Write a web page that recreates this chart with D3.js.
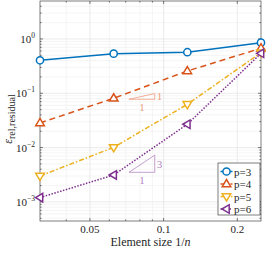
<!DOCTYPE html>
<html>
<head>
<meta charset="utf-8">
<script src="https://cdn.jsdelivr.net/npm/d3@7"></script>
<style>
  body { margin: 0; background: #fff; }
  text { font-family: "Liberation Serif", "Times New Roman", Times, "DejaVu Serif", serif; }
</style>
</head>
<body>
<svg id="chart" width="266" height="253"></svg>
<script>
// element sizes 1/n
const sizes = [1 / 32, 1 / 16, 1 / 8, 1 / 4];
const seriesNames = ["p=3", "p=4", "p=5", "p=6"];
const errP3 = [0.405, 0.537, 0.57, 0.855];
const errP4 = [0.0284, 0.081, 0.257, 0.675];
const errP5 = [0.0030, 0.0101, 0.0627, 0.56];
const errP6 = [0.0012, 0.00313, 0.0269, 0.545];
const xTicks = [0.05, 0.1, 0.2];
const yTicks = [1, 0.1, 0.01, 0.001];
const yTickExp = ["0", "\u22121", "\u22122", "\u22123"];
// slope triangles: [x0, x1, yBase, slope]
const slopes = [[0.0722, 0.092, 0.0776, 1], [0.0722, 0.092, 0.00351, 3]];

const MARGIN = { left: 40, right: 5, top: 1, bottom: 32 };
const svg = d3.select("#chart");
const width = 266 - MARGIN.left - MARGIN.right;
const height = 253 - MARGIN.top - MARGIN.bottom;

const colors = ["#0072BD", "#D95319", "#EDB120", "#7E2F8E"];
const dashes = ["none", "6,4", "5,2,1.5,2", "1.5,1.5"];
const slopeColors = ["#EE9C7C", "#B486C2"];

const x = d3.scaleLog().domain([1 / 32, 1 / 4]).range([0, width]);
const y = d3.scaleLog().domain([4.45e-4, 5.0]).range([height, 0]);

const g = svg.append("g").attr("transform", `translate(${MARGIN.left},${MARGIN.top})`);

// minor grid + major grid
const xMinor = [0.04, 0.06, 0.07, 0.08, 0.09];
const yMinor = [];
[1e-4, 1e-3, 1e-2, 1e-1, 1].forEach(d => {
  for (let k = 2; k <= 9; k++) {
    const v = d * k;
    if (v > y.domain()[0] && v < y.domain()[1]) yMinor.push(v);
  }
});

g.selectAll(".xminor").data(xMinor).enter().append("line")
  .attr("x1", d => x(d)).attr("x2", d => x(d)).attr("y1", 0).attr("y2", height)
  .attr("stroke", "#efefef").attr("stroke-width", 0.6);
g.selectAll(".yminor").data(yMinor).enter().append("line")
  .attr("x1", 0).attr("x2", width).attr("y1", d => y(d)).attr("y2", d => y(d))
  .attr("stroke", "#efefef").attr("stroke-width", 0.6);
g.selectAll(".xmajor").data(xTicks).enter().append("line")
  .attr("x1", d => x(d)).attr("x2", d => x(d)).attr("y1", 0).attr("y2", height)
  .attr("stroke", "#e2e2e2").attr("stroke-width", 0.7);
g.selectAll(".ymajor").data(yTicks).enter().append("line")
  .attr("x1", 0).attr("x2", width).attr("y1", d => y(d)).attr("y2", d => y(d))
  .attr("stroke", "#e2e2e2").attr("stroke-width", 0.7);

// inward ticks on all four sides
function ticks(data, len) {
  data.forEach(d => {
    g.append("line").attr("x1", x(d)).attr("x2", x(d)).attr("y1", height).attr("y2", height - len);
    g.append("line").attr("x1", x(d)).attr("x2", x(d)).attr("y1", 0).attr("y2", len);
  });
}
function yticks(data, len) {
  data.forEach(d => {
    g.append("line").attr("x1", 0).attr("x2", len).attr("y1", y(d)).attr("y2", y(d));
    g.append("line").attr("x1", width).attr("x2", width - len).attr("y1", y(d)).attr("y2", y(d));
  });
}
ticks(xTicks, 3); ticks(xMinor, 1.6);
yticks(yTicks, 3); yticks(yMinor, 1.6);
g.selectAll("line").filter(function () { return !this.getAttribute("stroke"); })
  .attr("stroke", "#262626").attr("stroke-width", 0.6);

// box
g.append("rect").attr("width", width).attr("height", height)
  .attr("fill", "none").attr("stroke", "#262626").attr("stroke-width", 0.6);

// tick labels
g.selectAll(".xlab").data(xTicks).enter().append("text")
  .attr("x", d => x(d)).attr("y", height + 12)
  .attr("text-anchor", "middle").attr("font-size", 11).attr("fill", "#262626")
  .text(d => d);

yTicks.forEach((d, i) => {
  const t = g.append("text").attr("x", -5).attr("y", y(d) + 4)
    .attr("text-anchor", "end").attr("font-size", 11).attr("fill", "#262626");
  t.append("tspan").text("10");
  t.append("tspan").attr("dy", -5).attr("font-size", 7.5).text(yTickExp[i]);
});

// axis labels
const xl = svg.append("text")
  .attr("x", MARGIN.left + width / 2).attr("y", 246)
  .attr("text-anchor", "middle").attr("font-size", 12).attr("fill", "#262626");
xl.append("tspan").text("Element size 1/");
xl.append("tspan").attr("font-style", "italic").text("n");

const yl = svg.append("text")
  .attr("transform", `translate(12, ${MARGIN.top + 118}) rotate(-90)`)
  .attr("text-anchor", "middle").attr("font-size", 12).attr("fill", "#262626");
yl.append("tspan").attr("font-style", "italic").text("\u03b5");
yl.append("tspan").attr("dy", 3).attr("font-size", 10).text("rel,residual");

// slope triangles
slopes.forEach((s, i) => {
  const [x0, x1, yb, k] = s;
  const ytop = yb * Math.pow(x1 / x0, k);
  const pts = [[x(x0), y(yb)], [x(x1), y(yb)], [x(x1), y(ytop)]];
  g.append("path").attr("d", d3.line()(pts) + "Z")
    .attr("fill", "none").attr("stroke", slopeColors[i]).attr("stroke-width", 0.8);
  g.append("text").attr("x", x(x1) + 2).attr("y", (y(yb) + y(ytop)) / 2 + 4)
    .attr("font-size", 11).attr("fill", slopeColors[i]).text(k);
  g.append("text").attr("x", (x(x0) + x(x1)) / 2).attr("y", y(yb) + 12)
    .attr("text-anchor", "middle").attr("font-size", 11)
    .attr("fill", slopeColors[i]).text(1);
});

// series
const allSeries = [errP3, errP4, errP5, errP6];
function markerPath(i, r) {
  if (i === 0) return d3.symbol(d3.symbolCircle, Math.PI * r * r)();
  const t = r * 1.25;
  if (i === 1) return `M0,${-t}L${t * 0.95},${t * 0.6}L${-t * 0.95},${t * 0.6}Z`;
  if (i === 2) return `M0,${t}L${t * 0.95},${-t * 0.6}L${-t * 0.95},${-t * 0.6}Z`;
  return `M${-t},0L${t * 0.6},${-t * 0.95}L${t * 0.6},${t * 0.95}Z`;
}
const line = d3.line().x(d => x(d[0])).y(d => y(d[1]));
allSeries.forEach((vals, i) => {
  const pts = sizes.map((s, j) => [s, vals[j]]);
  g.append("path").attr("d", line(pts))
    .attr("fill", "none").attr("stroke", colors[i]).attr("stroke-width", 1.5)
    .attr("stroke-dasharray", dashes[i]);
  g.selectAll(".m" + i).data(pts).enter().append("path")
    .attr("transform", d => `translate(${x(d[0])},${y(d[1])})`)
    .attr("d", markerPath(i, 3.6))
    .attr("fill", "#fff").attr("stroke", colors[i]).attr("stroke-width", 1.5);
});

// legend
const lg = svg.append("g").attr("transform", "translate(218,163)");
lg.append("rect").attr("width", 42).attr("height", 52)
  .attr("fill", "#fff").attr("stroke", "#262626").attr("stroke-width", 0.6);
seriesNames.forEach((name, i) => {
  const yy = 8.5 + i * 12.5;
  lg.append("line").attr("x1", 2.5).attr("x2", 14.5).attr("y1", yy).attr("y2", yy)
    .attr("stroke", colors[i]).attr("stroke-width", 1.5).attr("stroke-dasharray", dashes[i]);
  lg.append("path").attr("transform", `translate(8.5,${yy})`).attr("d", markerPath(i, 3.6))
    .attr("fill", "#fff").attr("stroke", colors[i]).attr("stroke-width", 1.5);
  lg.append("text").attr("x", 16).attr("y", yy + 4).attr("font-size", 11)
    .attr("fill", "#262626").text(name);
});
</script>
</body>
</html>
